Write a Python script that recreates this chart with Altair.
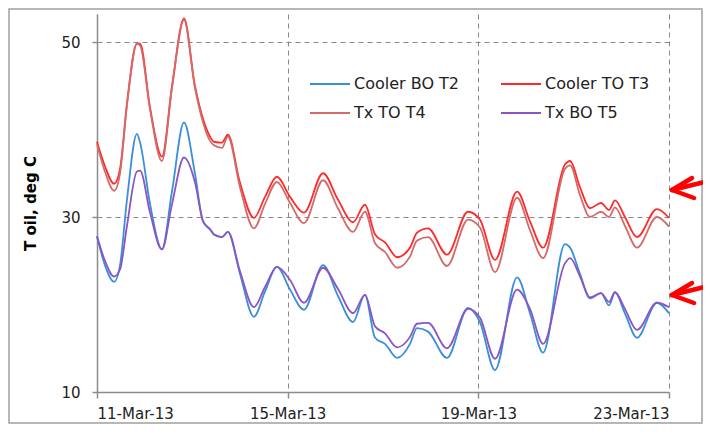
import altair as alt
import pandas as pd

# hours since 11-Mar-13 00:00
hours = [0, 4.0, 8.6, 11.6, 15.1, 20.1, 21.7, 26.7, 32.7, 37.8, 43.8, 49.3, 53.4,
         56.9, 58.9, 62.9, 65.9, 72.0, 79.0, 84.6, 90.6, 97.2, 104.2, 113.8, 121.3,
         128.9, 134.9, 140.0, 145.0, 151.1, 157.6, 161.1, 166.7, 176.2, 186.8, 192.8,
         200.4, 211.5, 218.0, 224.6, 235.6, 238.2, 243.2, 248.2, 253.8, 257.8, 260.8,
         265.8, 271.9, 281.9, 288.0]

cooler_bo_t2 = [27.8, 24.5, 22.6, 24.5, 32.0, 39.5, 38.5, 31.5, 26.3, 33.0, 40.8, 35.0, 29.5,
                28.6, 28.0, 27.7, 28.3, 23.5, 18.6, 21.5, 24.3, 21.7, 19.4, 24.5, 21.0,
                18.0, 21.1, 16.2, 15.5, 13.9, 15.5, 17.3, 16.9, 13.9, 19.6, 18.0,
                12.5, 23.1, 19.0, 14.5, 26.9, 26.5, 23.5, 20.7, 21.3, 19.9, 21.4,
                19.0, 16.2, 20.2, 19.0]
cooler_to_t3 = [38.6, 35.8, 33.8, 35.5, 43.0, 49.8, 49.8, 42.5, 36.9, 45.0, 52.7, 45.0, 41.2,
                39.2, 38.6, 38.5, 39.4, 33.9, 29.9, 32.3, 34.6, 32.3, 30.5, 35.0, 32.0,
                29.4, 31.4, 28.0, 27.1, 25.4, 26.5, 28.2, 28.7, 25.7, 30.6, 29.7,
                25.1, 32.9, 29.5, 26.5, 36.0, 36.4, 33.4, 31.0, 31.6, 30.8, 31.9,
                30.0, 27.7, 30.9, 29.9]
tx_to_t4 = [38.3, 35.2, 33.0, 35.0, 42.8, 49.8, 49.6, 42.3, 36.4, 44.8, 52.5, 44.8, 40.8,
            38.7, 38.2, 37.9, 39.2, 33.4, 28.7, 31.5, 34.0, 31.6, 29.3, 34.2, 31.0,
            28.3, 30.6, 27.0, 26.0, 24.2, 25.5, 27.3, 27.7, 24.4, 29.7, 28.8,
            23.7, 32.2, 28.5, 25.3, 35.5, 35.9, 32.5, 30.0, 30.6, 30.0, 31.1,
            29.0, 26.5, 30.0, 28.9]
tx_bo_t5 = [27.8, 25.0, 23.2, 24.0, 29.0, 35.2, 35.3, 30.5, 26.3, 31.5, 36.8, 34.0, 29.5,
            28.6, 28.0, 27.7, 28.3, 23.8, 19.7, 22.0, 24.3, 22.8, 20.2, 24.2, 21.8,
            19.0, 21.1, 17.5, 16.7, 15.1, 16.3, 17.8, 17.9, 15.0, 19.5, 18.5,
            13.8, 21.7, 19.5, 15.5, 24.7, 25.3, 23.2, 20.8, 21.3, 20.3, 21.4,
            19.5, 17.1, 20.2, 19.7]

series_names = ["Cooler BO T2", "Cooler TO T3", "Tx TO T4", "Tx BO T5"]
series_colors = ["#3a8fd9", "#ff2a2a", "#d46b6b", "#8b55c4"]
# legend fills column by column: order so that rows read T2|T3 and T4|T5
legend_order = ["Cooler BO T2", "Tx TO T4", "Cooler TO T3", "Tx BO T5"]
legend_colors = [series_colors[series_names.index(n)] for n in legend_order]
y_ticks = [10, 30, 50]
x_tick_days = [11, 15, 19, 23]

base = pd.Timestamp("2013-03-11")
times = [(base + pd.Timedelta(hours=h)).strftime("%Y-%m-%dT%H:%M:%S") for h in hours]
rows = []
for name, vals in zip(series_names, [cooler_bo_t2, cooler_to_t3, tx_to_t4, tx_bo_t5]):
    for t, v in zip(times, vals):
        rows.append({"time": t, "temp": v, "series": name})
df = pd.DataFrame(rows)


def day(d):
    return alt.DateTime(year=2013, month=3, date=d)


FONT = "DejaVu Sans"
GRAY = "#8c8c8c"

lines = alt.Chart(df).mark_line(strokeWidth=1.8, interpolate="monotone").encode(
    x=alt.X("time:T",
            scale=alt.Scale(domain=[day(11), day(23)]),
            axis=alt.Axis(values=[day(d) for d in x_tick_days], format="%d-%b-%y",
                          title=None, grid=True, gridDash=[5, 4], gridColor="#888888",
                          gridWidth=1, tickSize=6, labelPadding=8)),
    y=alt.Y("temp:Q",
            scale=alt.Scale(domain=[10, 53.2], nice=False, zero=False),
            axis=alt.Axis(values=y_ticks, title="T oil, deg C", grid=True,
                          gridDash=[5, 4], gridColor="#888888", gridWidth=1,
                          tickSize=5, labelPadding=12, titlePadding=22)),
    color=alt.Color("series:N",
                    scale=alt.Scale(domain=legend_order, range=legend_colors),
                    legend=alt.Legend(title=None, orient="none", legendX=212, legendY=49,
                                      columns=2, columnPadding=37, rowPadding=-10,
                                      symbolType="stroke", symbolSize=1600,
                                      symbolStrokeWidth=2, labelOffset=3, padding=0,
                                      labelFont=FONT, labelFontSize=16,
                                      labelColor="#222222", labelLimit=200)),
)

one = pd.DataFrame({"a": [0]})
frame = alt.Chart(one).mark_rect(filled=False, stroke="#a0a0a0", strokeWidth=1.5).encode(
    x=alt.value(-88), x2=alt.value(605), y=alt.value(-5), y2=alt.value(409))

arrow_layers = []
for (tx, ty, ex, ey, b1x, b1y, b2x, b2y) in [
        (575, 176, 616, 166, 595, 164, 597, 184),
        (575, 281, 616, 271, 595, 269, 597, 289)]:
    for (x2v, y2v) in [(ex, ey), (b1x, b1y), (b2x, b2y)]:
        arrow_layers.append(
            alt.Chart(one).mark_rule(color="#ff0000", strokeWidth=4.5, strokeCap="round").encode(
                x=alt.value(tx), y=alt.value(ty), x2=alt.value(x2v), y2=alt.value(y2v)))

chart = alt.layer(frame, lines, *arrow_layers).properties(
    width=572, height=378,
    autosize=alt.AutoSizeParams(type="none"),
    padding={"left": 89, "top": 6, "right": 34, "bottom": 32},
).configure_view(stroke=None).configure_axis(
    domainColor=GRAY, domainWidth=1.5, tickColor=GRAY, tickWidth=1.5,
    labelFont=FONT, labelFontSize=15, labelColor="#222222",
    titleFont=FONT, titleFontSize=15, titleFontWeight="bold", titleColor="#000000",
)

chart.save("out.html", embed_options={"renderer": "svg", "actions": False})
